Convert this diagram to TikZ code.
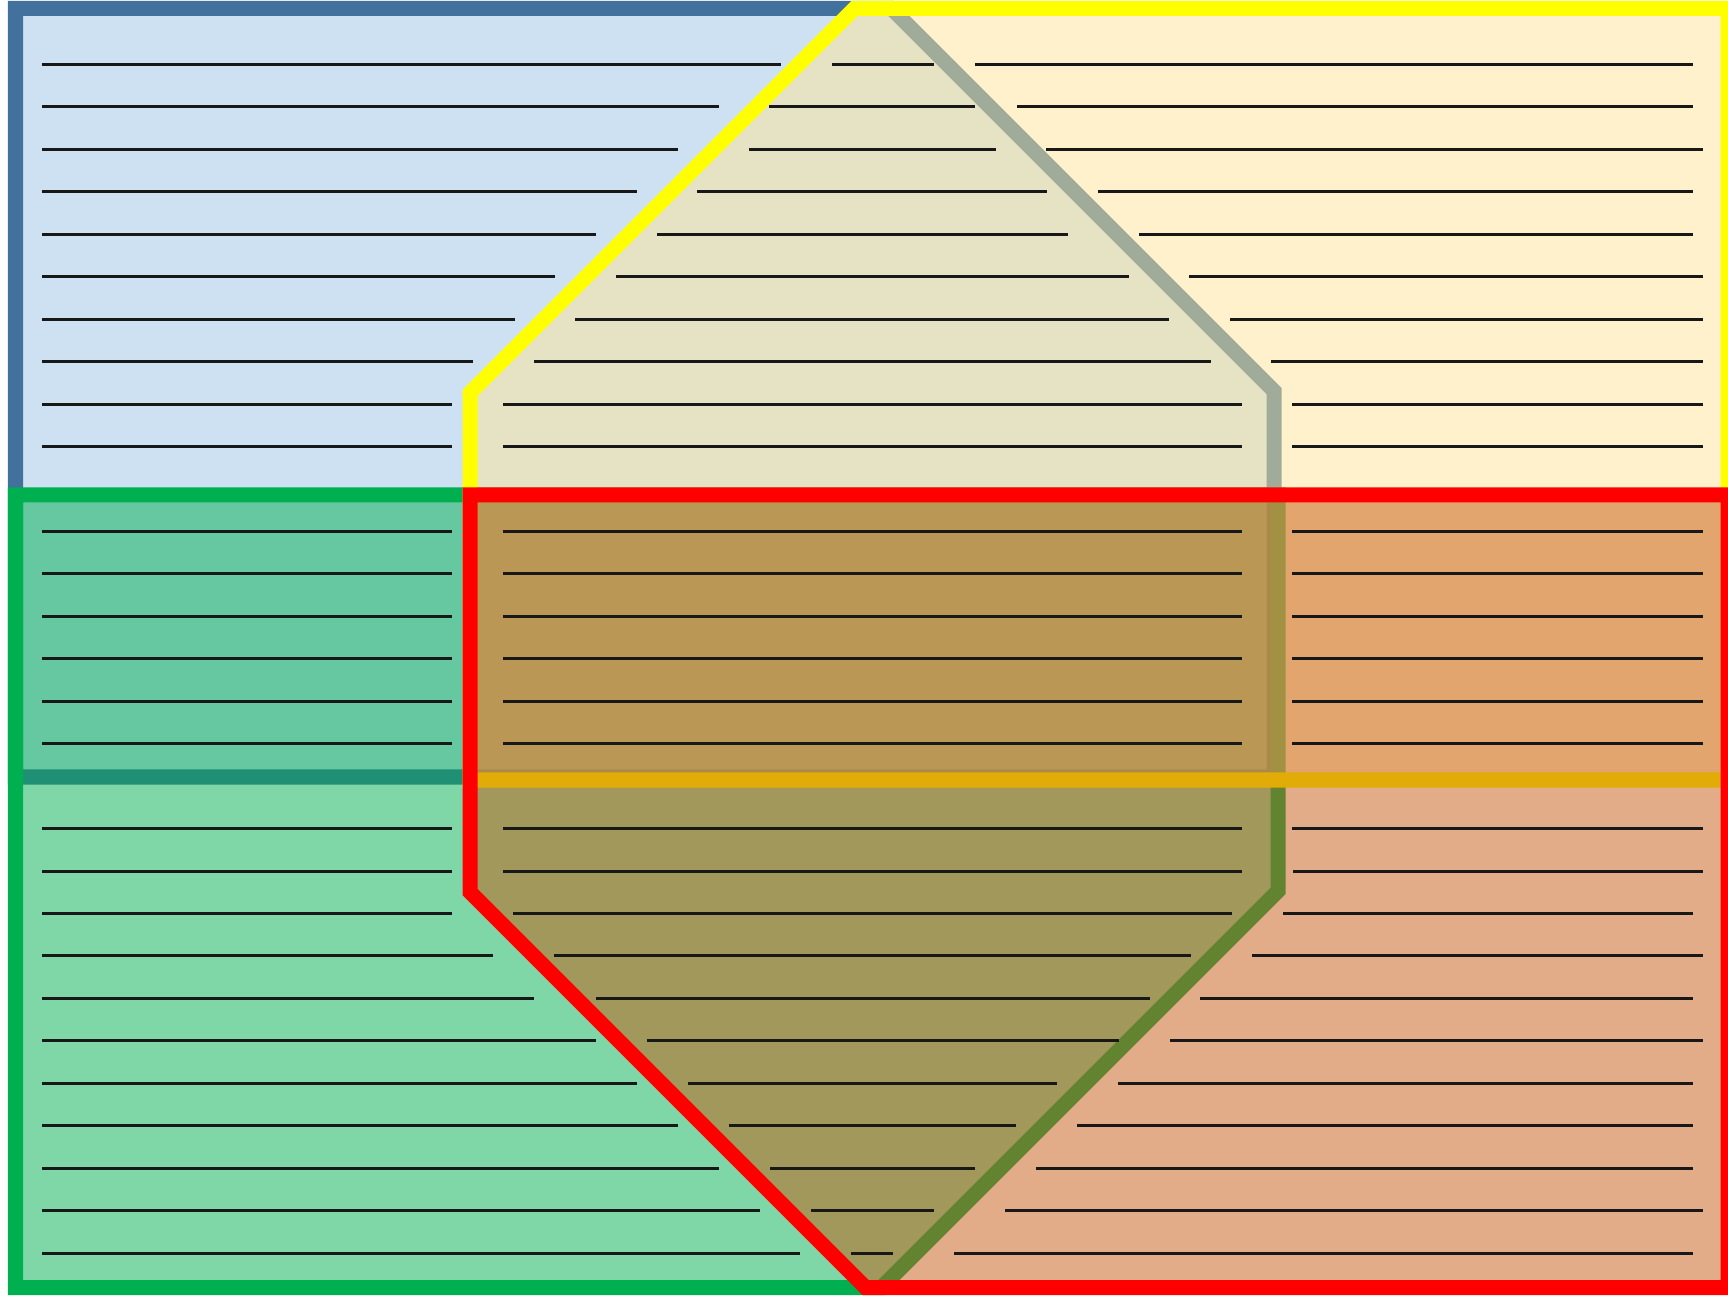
\documentclass[tikz,border=0pt]{standalone}
\begin{document}
\begin{tikzpicture}[x=0.01cm,y=-0.01cm,
  region/.style={line width=0.15cm,line join=miter},
  txt/.style={line width=0.03cm,draw={rgb,255:red,24;green,24;blue,24}}]
\definecolor{blueFill}{RGB}{206,225,242}
\definecolor{blueLine}{RGB}{65,113,156}
\definecolor{grn}{RGB}{0,176,80}
\definecolor{yelFill}{RGB}{255,229,153}
\definecolor{yelLine}{RGB}{255,255,0}
\definecolor{redFill}{RGB}{197,90,17}
\definecolor{redLine}{RGB}{255,0,0}
\useasboundingbox (0,0) rectangle (1728,1298);
\fill[white] (0,0) rectangle (1728,1298);
% blue shape
\draw[region,draw=blueLine,fill=blueFill]
  (15.5,8.5) -- (891.5,8.5) -- (1274,391) -- (1274,777) -- (15.5,777) -- cycle;
% green shape
\draw[region,draw=grn,fill=grn,fill opacity=0.5]
  (15.5,495) -- (1278,495) -- (1278,891) -- (881.5,1287.5) -- (15.5,1287.5) -- cycle;
% yellow shape
\draw[region,draw=yelLine,fill=yelFill,fill opacity=0.5]
  (470,780) -- (470,393) -- (854.5,8.5) -- (1728,8.5) -- (1728,780) -- cycle;
% red shape
\draw[region,draw=redLine,fill=redFill,fill opacity=0.5]
  (470,495) -- (1728,495) -- (1728,1287.5) -- (865.5,1287.5) -- (470,892) -- cycle;
% text lines
\foreach \k/\a/\b in {
  0/42/781, 0/832/934, 0/975/1693,
  1/42/719, 1/769/975, 1/1017/1693,
  2/42/678, 2/749/996, 2/1046/1703,
  3/42/637, 3/697/1047, 3/1098/1693,
  4/42/596, 4/657/1068, 4/1139/1693,
  5/42/555, 5/616/1129, 5/1189/1703,
  6/42/515, 6/575/1169, 6/1230/1703,
  7/42/473, 7/534/1211, 7/1271/1703,
  8/42/452, 8/503/1242, 8/1292/1703,
  9/42/452, 9/503/1242, 9/1292/1703,
  11/42/452, 11/503/1242, 11/1292/1703,
  12/42/452, 12/503/1242, 12/1292/1703,
  13/42/452, 13/503/1242, 13/1292/1703,
  14/42/452, 14/503/1242, 14/1292/1703,
  15/42/452, 15/503/1242, 15/1292/1703,
  16/42/452, 16/503/1242, 16/1292/1703,
  18/42/452, 18/503/1242, 18/1292/1703,
  19/42/452, 19/503/1242, 19/1293/1703,
  20/42/452, 20/513/1232, 20/1283/1693,
  21/42/493, 21/554/1191, 21/1252/1703,
  22/42/534, 22/596/1150, 22/1200/1693,
  23/42/596, 23/647/1119, 23/1170/1703,
  24/42/637, 24/688/1057, 24/1118/1693,
  25/42/678, 25/729/1016, 25/1077/1693,
  26/42/719, 26/770/975, 26/1036/1693,
  27/42/760, 27/811/934, 27/1005/1703,
  28/42/800, 28/851/893, 28/954/1693}
{
  \draw[txt] (\a,{64.5+42.45*\k}) -- (\b,{64.5+42.45*\k});
}
\end{tikzpicture}
\end{document}
